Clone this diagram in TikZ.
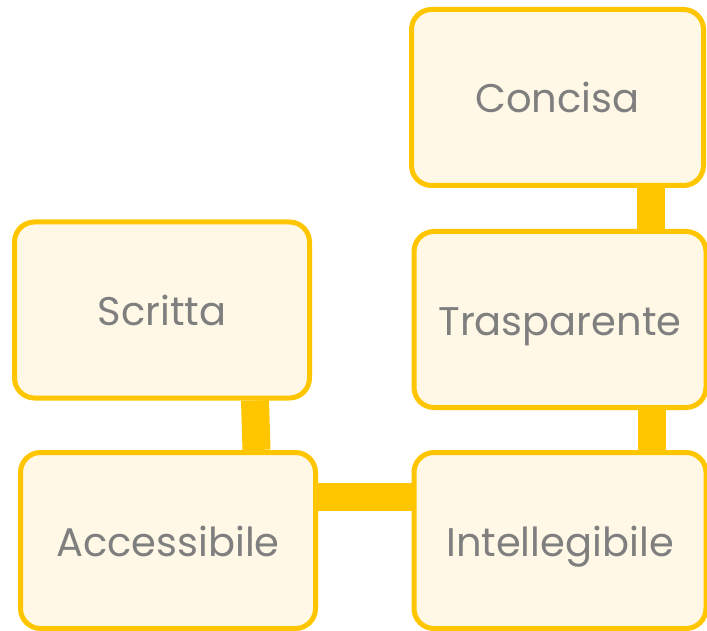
\documentclass[tikz,border=0pt]{standalone}
\usepackage{fontspec}
\setmainfont{Poppins}
\usetikzlibrary{backgrounds}
\definecolor{boxfill}{HTML}{FFF8E6}
\definecolor{boxline}{HTML}{FFC600}
\definecolor{txtgrey}{HTML}{7F7F7F}
\tikzset{
  card/.style={draw=boxline, fill=boxfill, line width=5pt, rounded corners=20pt,
    minimum width=292pt, minimum height=176pt, inner sep=0pt,
    text height=31pt, text depth=0pt,
    text=txtgrey, font=\fontsize{40}{48}\selectfont},
  conn/.style={draw=boxline, line width=28pt}
}
\begin{document}
\begin{tikzpicture}[x=1pt,y=-1pt]
\useasboundingbox (0,0) rectangle (707,631);
\node[card] (concisa) at (557.5,97.5) {Concisa};
\node[card] (trasp) at (560,319.5) {Trasparente};
\node[card, minimum width=295pt] (scritta) at (162,310) {Scritta};
\node[card, minimum width=295pt] (access) at (168,540.5) {Accessibile};
\node[card] (intel) at (560,540.5) {Intellegibile};
\begin{scope}[on background layer]
\draw[conn] ([xshift=93pt]concisa.south) -- ([xshift=90.5pt]trasp.north);
\draw[conn] ([xshift=91.5pt]trasp.south) -- ([xshift=91.5pt]intel.north);
\draw[conn] ([xshift=93pt]scritta.south) -- ([xshift=88.5pt]access.north);
\draw[conn] ([yshift=43.5pt]access.east) -- ([yshift=43.5pt]intel.west);
\end{scope}
\end{tikzpicture}
\end{document}
